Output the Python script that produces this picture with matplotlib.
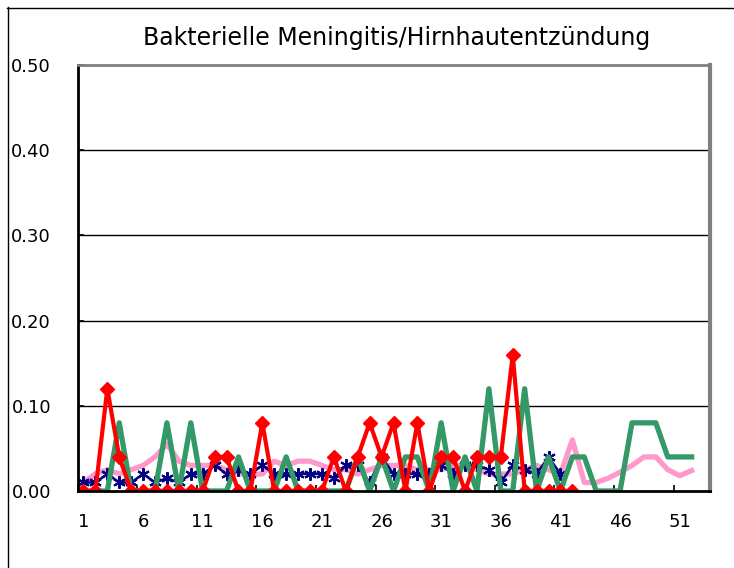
import matplotlib
matplotlib.use("Agg")
import matplotlib.pyplot as plt
from matplotlib.lines import Line2D

title = "Bakterielle Meningitis/Hirnhautentzündung"

pink = [0.010, 0.020, 0.025, 0.020, 0.025, 0.030, 0.040, 0.055, 0.035, 0.030,
        0.030, 0.030, 0.025, 0.020, 0.020, 0.020, 0.035, 0.030, 0.035, 0.035,
        0.030, 0.025, 0.025, 0.020, 0.025, 0.030, 0.030, 0.030, 0.025, 0.025,
        0.025, 0.030, 0.030, 0.025, 0.020, 0.020, 0.020, 0.025, 0.030, 0.025,
        0.020, 0.060, 0.010, 0.010, 0.015, 0.022, 0.030, 0.040, 0.040, 0.025,
        0.018, 0.024]

green = [0.00, 0.00, 0.00, 0.08, 0.00, 0.00, 0.00, 0.08, 0.00, 0.08,
         0.00, 0.00, 0.00, 0.04, 0.00, 0.00, 0.00, 0.04, 0.00, 0.00,
         0.00, 0.00, 0.00, 0.04, 0.00, 0.04, 0.00, 0.04, 0.04, 0.00,
         0.08, 0.00, 0.04, 0.00, 0.12, 0.00, 0.00, 0.12, 0.00, 0.04,
         0.00, 0.04, 0.04, 0.00, 0.00, 0.00, 0.08, 0.08, 0.08, 0.04,
         0.04, 0.04]

navy = [0.010, 0.010, 0.020, 0.010, 0.010, 0.020, 0.010, 0.015, 0.010, 0.020,
        0.020, 0.030, 0.020, 0.025, 0.020, 0.030, 0.020, 0.020, 0.020, 0.020,
        0.020, 0.015, 0.030, 0.030, 0.010, 0.040, 0.020, 0.020, 0.020, 0.020,
        0.030, 0.020, 0.030, 0.030, 0.025, 0.010, 0.030, 0.025, 0.020, 0.040,
        0.020]

red = [0.00, 0.00, 0.12, 0.04, 0.00, 0.00, 0.00, 0.00, 0.00, 0.00,
       0.00, 0.04, 0.04, 0.00, 0.00, 0.08, 0.00, 0.00, 0.00, 0.00,
       0.00, 0.04, 0.00, 0.04, 0.08, 0.04, 0.08, 0.00, 0.08, 0.00,
       0.04, 0.04, 0.00, 0.04, 0.04, 0.04, 0.16, 0.00, 0.00, 0.00,
       0.00, 0.00]

xtick_labels = [str(w) for w in range(1, 53, 5)]
ytick_values = [0.0, 0.1, 0.2, 0.3, 0.4, 0.5]

W, H = 734, 568
fig = plt.figure(figsize=(W / 100, H / 100), dpi=100)
fig.patch.set_facecolor("white")

left, right, top, bottom = 77.5, 709.5, 65, 491
ax = fig.add_axes([left / W, 1 - bottom / H, (right - left) / W, (bottom - top) / H])

def wk(vals):
    return list(range(1, len(vals) + 1))

ax.plot(wk(pink), pink, color="#ff99cc", lw=3.8, solid_joinstyle="round", zorder=3)
ax.plot(wk(navy), navy, color="#000080", lw=1.8, marker=(6, 2, 0), markersize=9,
        markeredgewidth=1.5, markeredgecolor="#000080", zorder=4)
ax.plot(wk(green), green, color="#339966", lw=3.8, solid_joinstyle="round", zorder=5)
ax.plot(wk(red), red, color="#ff0000", lw=3.0, marker="D", markersize=7,
        markeredgecolor="#ff0000", markerfacecolor="#ff0000", zorder=6)

ax.set_xlim(0.5, 53.5)
ax.set_ylim(0, 0.5)

ax.set_yticks(ytick_values)
ax.set_yticklabels([f"{v:.2f}" for v in ytick_values])
ax.set_xticks(range(1, 53, 5))
ax.set_xticklabels(xtick_labels)
ax.set_xticks([0.5 + 5 * k for k in range(11)], minor=True)
ax.tick_params(axis="x", which="major", length=0, pad=16, labelsize=13)
ax.tick_params(axis="x", which="minor", length=4, width=1.2, direction="in", color="black")
ax.tick_params(axis="y", which="major", length=4, width=1.2, direction="in", pad=19,
               labelsize=13)

for v in ytick_values[1:-1]:
    ax.axhline(v, color="black", lw=1.0, zorder=1)

ax.spines["left"].set_color("black")
ax.spines["left"].set_linewidth(2.0)
ax.spines["bottom"].set_color("black")
ax.spines["bottom"].set_linewidth(2.0)
ax.spines["top"].set_color("#808080")
ax.spines["top"].set_linewidth(2.0)
ax.spines["right"].set_color("#808080")
ax.spines["right"].set_linewidth(3.0)
for s in ax.spines.values():
    s.set_zorder(7)

fig.text(397 / W, 1 - 38 / H, title, ha="center", va="center", fontsize=17)

# outer chart frame (top and left edges visible)
fig.add_artist(Line2D([7 / W, 1.0], [1 - 7.5 / H, 1 - 7.5 / H], color="black", lw=1.0))
fig.add_artist(Line2D([7.5 / W, 7.5 / W], [0, 1 - 7 / H], color="black", lw=1.0))

fig.savefig("out.png", dpi=100)
